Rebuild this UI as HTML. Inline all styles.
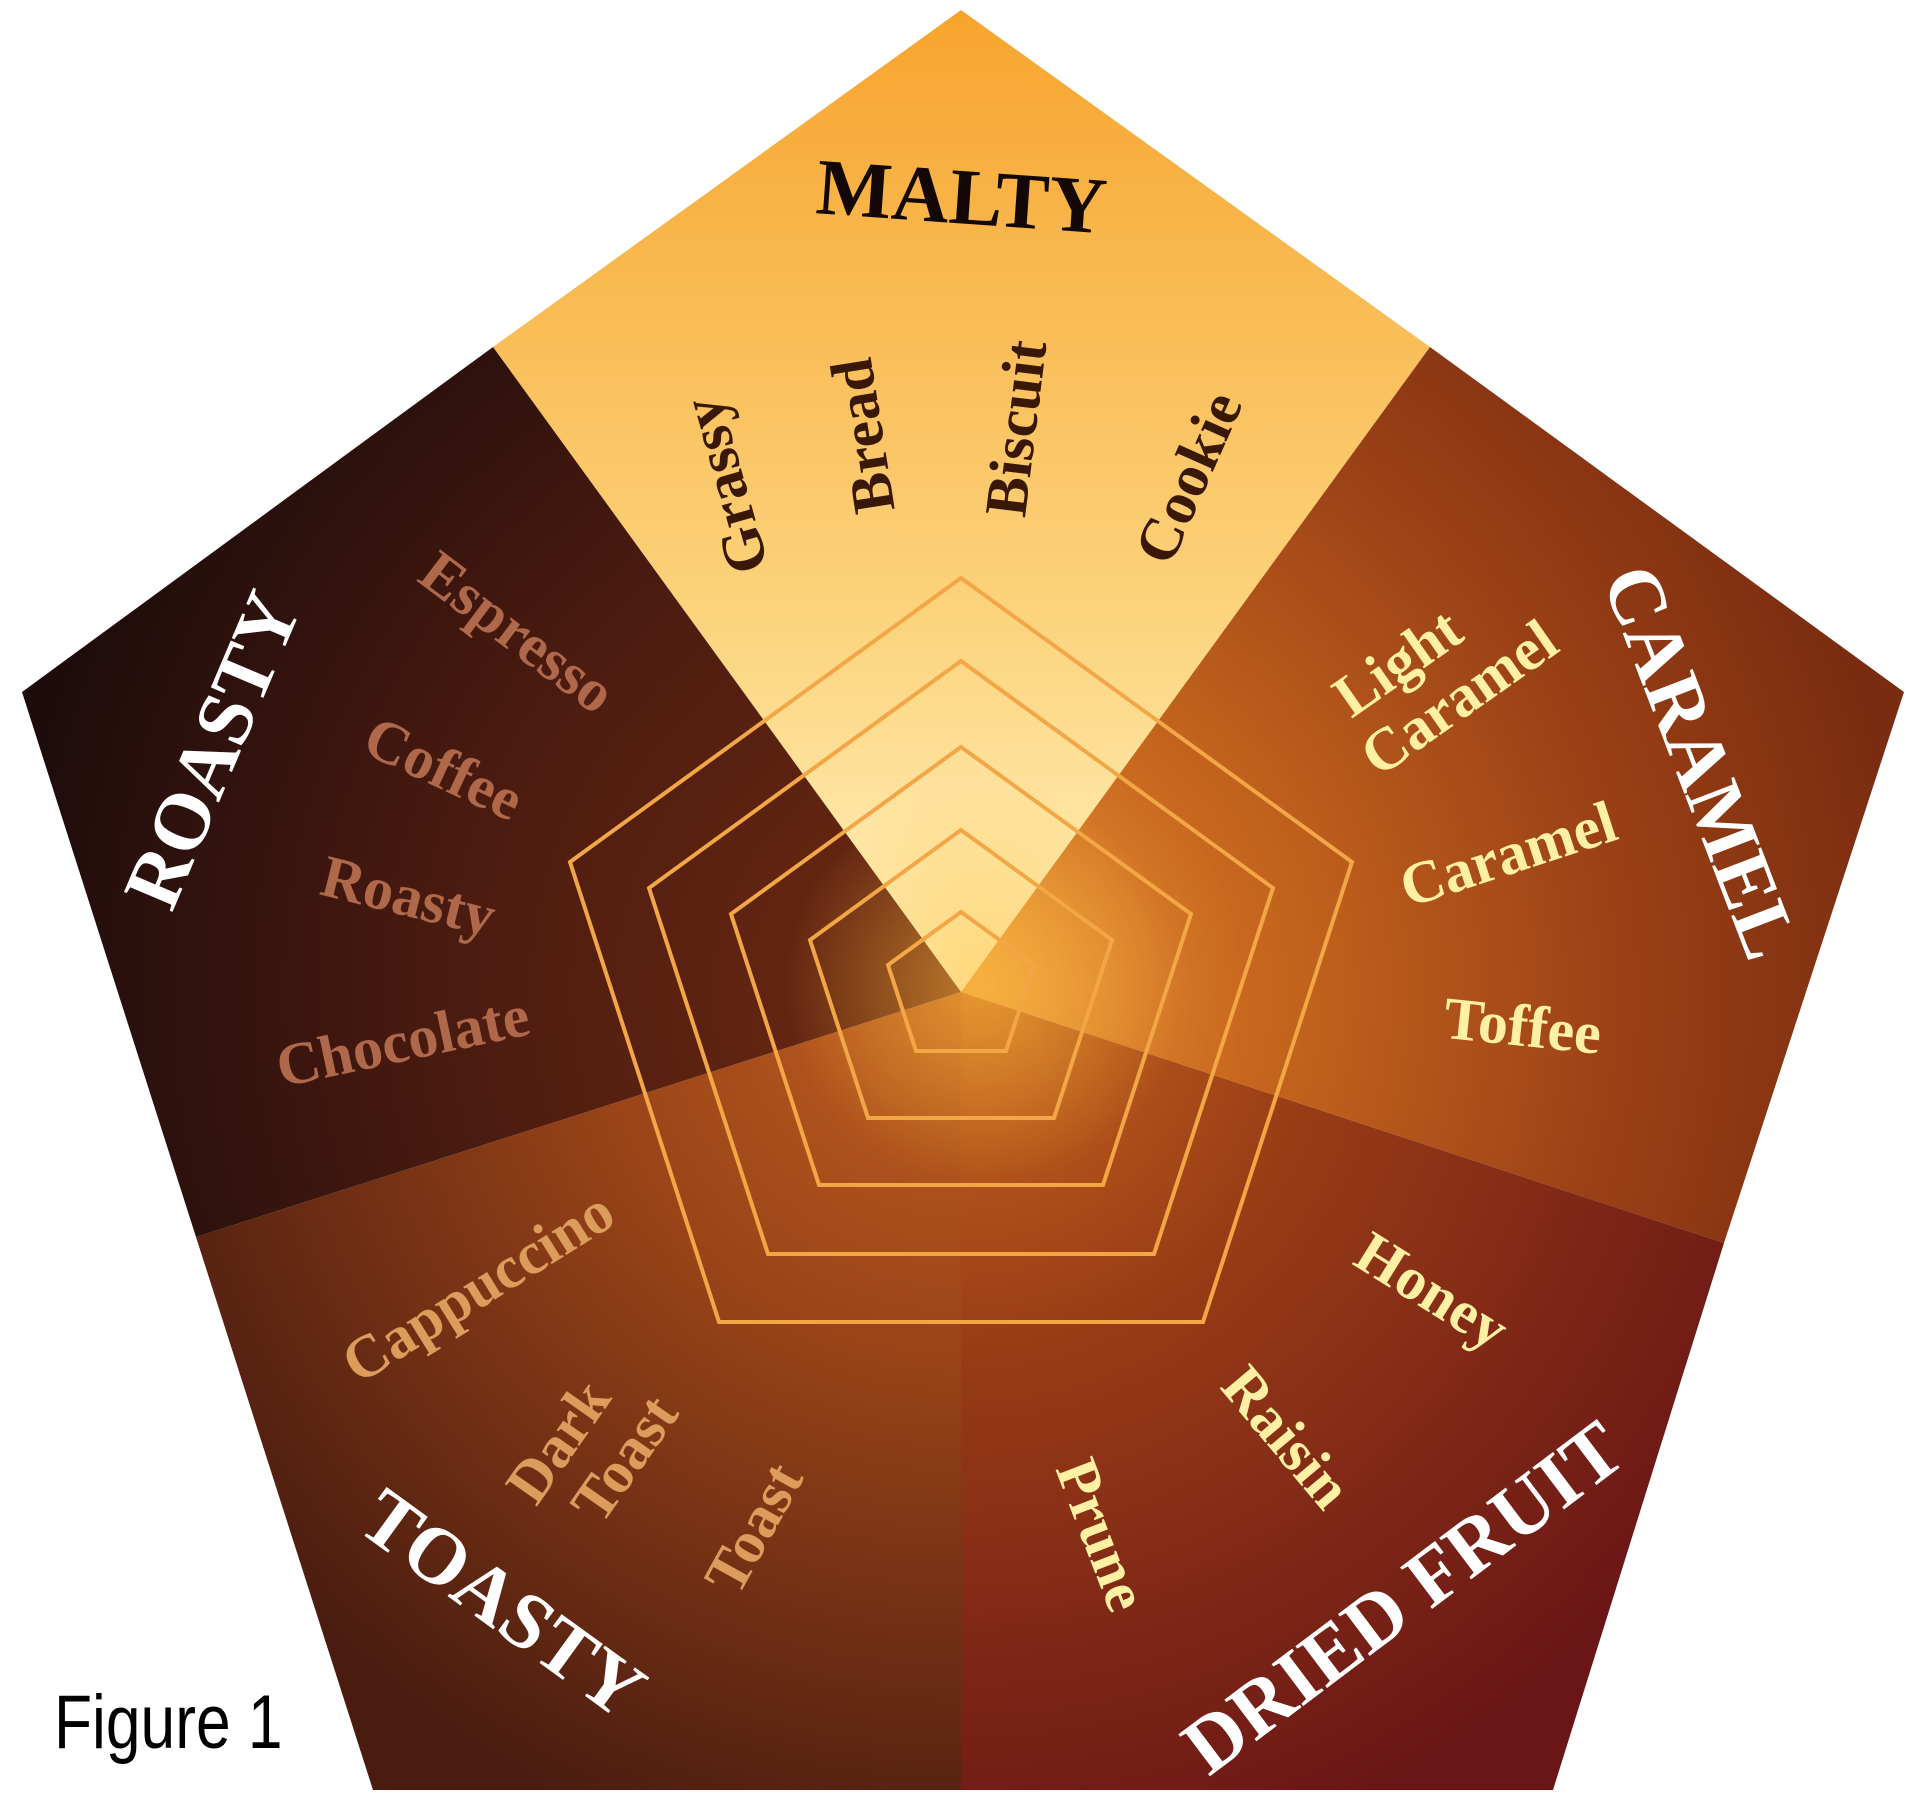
<!DOCTYPE html>
<html><head><meta charset="utf-8"><style>
html,body{margin:0;padding:0;background:#fff;}
svg{display:block;}
.t{font-family:"Liberation Serif",serif;font-weight:bold;text-anchor:middle;dominant-baseline:middle;}
</style></head><body>
<svg width="1920" height="1800" viewBox="0 0 1920 1800" xmlns="http://www.w3.org/2000/svg">
<defs>
<linearGradient id="gm" x1="0" y1="0" x2="0" y2="1"><stop offset="0" stop-color="#f7a42e"/><stop offset="0.6" stop-color="#fcd27a"/><stop offset="1" stop-color="#fff3c0"/></linearGradient>
<radialGradient id="gc" cx="961" cy="992" r="950" gradientUnits="userSpaceOnUse"><stop offset="0" stop-color="#f0a040"/><stop offset="0.3" stop-color="#c8681e"/><stop offset="0.7" stop-color="#9a4016"/><stop offset="1" stop-color="#7a2c10"/></radialGradient>
<radialGradient id="gd" cx="961" cy="992" r="900" gradientUnits="userSpaceOnUse"><stop offset="0" stop-color="#c8681e"/><stop offset="0.4" stop-color="#983c16"/><stop offset="1" stop-color="#6a1616"/></radialGradient>
<radialGradient id="gt" cx="961" cy="992" r="900" gradientUnits="userSpaceOnUse"><stop offset="0" stop-color="#c06020"/><stop offset="0.4" stop-color="#9a4418"/><stop offset="1" stop-color="#4a1c10"/></radialGradient>
<radialGradient id="gr" cx="961" cy="992" r="950" gradientUnits="userSpaceOnUse"><stop offset="0" stop-color="#6e2a12"/><stop offset="0.5" stop-color="#4e1c10"/><stop offset="1" stop-color="#1e0c0c"/></radialGradient>
<radialGradient id="glow" cx="985" cy="985" r="200" gradientUnits="userSpaceOnUse"><stop offset="0" stop-color="#ffc040" stop-opacity="0.55"/><stop offset="1" stop-color="#ffc040" stop-opacity="0"/></radialGradient>
</defs>
<polygon points="961,10 1430,347 961,992 493,347" fill="url(#gm)"/>
<polygon points="1430,347 1904,692 1724,1243 961,992" fill="url(#gc)"/>
<polygon points="1724,1243 1553,1790 961,1790 961,992" fill="url(#gd)"/>
<polygon points="961,1790 373,1790 196,1237 961,992" fill="url(#gt)"/>
<polygon points="196,1237 22,692 493,347 961,992" fill="url(#gr)"/>
<polygon points="961,10 1904,692 1553,1790 373,1790 22,692" fill="url(#glow)"/>
<g fill="none" stroke="#f3a646" stroke-width="4">
<polygon points="961,578 1352,862 1203,1322 719,1322 570,862"/>
<polygon points="961,661 1273,888 1154,1254 768,1254 649,888"/>
<polygon points="961,747 1191,914 1103,1185 819,1185 731,914"/>
<polygon points="961,830 1112,940 1054,1118 868,1118 810,940"/>
<polygon points="961,912 1034,965 1006,1051 916,1051 888,965"/>
</g>
<text class="t" x="961" y="205" font-size="80" fill="#140806" transform="rotate(4 961 205)">MALTY</text>
<g font-size="60" fill="#3a1808">
<text class="t" x="731" y="484" transform="rotate(-106 731 484)">Grassy</text>
<text class="t" x="869" y="435" transform="rotate(-99 869 435)">Bread</text>
<text class="t" x="1022" y="429" transform="rotate(-83 1022 429)">Biscuit</text>
<text class="t" x="1194" y="480" transform="rotate(-66 1194 480)">Cookie</text>
</g>
<text class="t" x="220" y="753" font-size="80" fill="#fff" transform="rotate(-67 220 753)">ROASTY</text>
<g font-size="60" fill="#b0684a">
<text class="t" x="514" y="637" transform="rotate(37 514 637)">Espresso</text>
<text class="t" x="441" y="774" transform="rotate(25 441 774)">Coffee</text>
<text class="t" x="407" y="902" transform="rotate(14 407 902)">Roasty</text>
<text class="t" x="404" y="1047" transform="rotate(-12 404 1047)">Chocolate</text>
</g>
<text class="t" x="1693" y="765" font-size="80" fill="#fff" transform="rotate(69 1693 765)">CARAMEL</text>
<g font-size="60" fill="#fff0a4">
<g transform="rotate(-35 1439 680)"><text class="t" x="1415" y="648">Light</text><text class="t" x="1445" y="712">Caramel</text></g>
<text class="t" x="1510" y="860" transform="rotate(-18 1510 860)">Caramel</text>
<text class="t" x="1522" y="1032" transform="rotate(6 1522 1032)">Toffee</text>
<text class="t" x="1429" y="1296" transform="rotate(32 1429 1296)">Honey</text>
<text class="t" x="1282" y="1441" transform="rotate(50 1282 1441)">Raisin</text>
<text class="t" x="1096" y="1537" transform="rotate(69 1096 1537)">Prune</text>
</g>
<text class="t" x="1408" y="1604" font-size="80" fill="#fff" transform="rotate(-37 1408 1604)">DRIED FRUIT</text>
<text class="t" x="498" y="1610" font-size="80" fill="#fff" transform="rotate(36 498 1610)">TOASTY</text>
<g font-size="60" fill="#dc9c5c">
<text class="t" x="481" y="1292" transform="rotate(-32 481 1292)">Cappuccino</text>
<g transform="rotate(-55 598 1451)"><text class="t" x="583" y="1419">Dark</text><text class="t" x="607" y="1483">Toast</text></g>
<text class="t" x="759" y="1531" transform="rotate(-61 759 1531)">Toast</text>
</g>
<text x="0" y="0" font-family="Liberation Sans Narrow,Liberation Sans,sans-serif" font-size="76" fill="#000" transform="translate(54 1748) scale(0.82 1)">Figure 1</text>
</svg>
</body></html>
